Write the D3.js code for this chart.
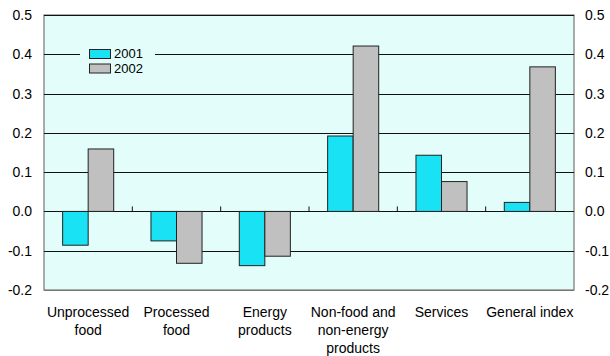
<!DOCTYPE html>
<html><head><meta charset="utf-8">
<script src="https://cdn.jsdelivr.net/npm/d3@7"></script>
<style>body{margin:0;background:#fff}svg{display:block}text{font-family:"Liberation Sans",Arial,sans-serif;fill:#000}</style>
</head><body><svg id="c" width="610" height="356"></svg>
<script>
const categories = [["Unprocessed","food"],["Processed","food"],["Energy","products"],["Non-food and","non-energy","products"],["Services"],["General index"]];
const series = ["2001","2002"];
const values2001 = [-0.086,-0.075,-0.138,0.192,0.143,0.023];
const values2002 = [0.159,-0.132,-0.114,0.421,0.076,0.368];
const yTicks = [0.5,0.4,0.3,0.2,0.1,0.0,-0.1,-0.2];
const colors = ["#19e2f5","#c0c0c0"];

const svg = d3.select("#c");
const L=44, R=574, T=15, B=290;
const x = d3.scaleBand().domain(d3.range(categories.length)).range([L,R]).padding(0);
const xs = d3.scaleBand().domain(series).range([0,x.bandwidth()]).paddingInner(0).paddingOuter(0.73);
const y = d3.scaleLinear().domain([-0.2,0.5]).range([B,T]);

svg.append("rect").attr("x",L).attr("y",T).attr("width",R-L).attr("height",B-T).attr("fill","#e3fdfb").attr("stroke","#777").attr("stroke-width",1.2);
// gridlines
svg.append("g").selectAll("line").data(yTicks).join("line")
 .attr("x1",L).attr("x2",R).attr("y1",d=>Math.round(y(d))+0.5).attr("y2",d=>Math.round(y(d))+0.5)
 .attr("stroke",d=>d===-0.2?"#777":"#111").attr("stroke-width",1.2);
// axes labels
const la = d3.axisLeft(y).tickValues(yTicks).tickFormat(d3.format(".1f")).tickSize(0).tickPadding(12);
const gl = svg.append("g").attr("transform",`translate(${L},0)`).call(la);
const ra = d3.axisRight(y).tickValues(yTicks).tickFormat(d3.format(".1f")).tickSize(0).tickPadding(11);
const gr = svg.append("g").attr("transform",`translate(${R},0)`).call(ra);
[gl,gr].forEach(g=>{g.select(".domain").remove();g.selectAll("text").attr("font-size",14).attr("font-family","Liberation Sans, Arial, sans-serif").attr("fill","#000");});
gl.selectAll("text").text(d=>d3.format(".1f")(d).replace("−","-"));
gr.selectAll("text").text(d=>d3.format(".1f")(d).replace("−","-"));

// bars
const data = categories.map((c,i)=>({i, vals:[values2001[i],values2002[i]]}));
const g = svg.append("g");
data.forEach(d=>{
  d.vals.forEach((v,j)=>{
    const x0 = x(d.i)+xs(series[j]);
    g.append("rect").attr("x",x0).attr("width",xs.bandwidth())
     .attr("y",y(Math.max(0,v))).attr("height",Math.abs(y(v)-y(0)))
     .attr("fill",colors[j]).attr("stroke","#222").attr("stroke-width",1);
  });
});
// zero line ticks at category boundaries
svg.append("g").selectAll("line").data(d3.range(1,categories.length)).join("line")
 .attr("x1",d=>x(d)).attr("x2",d=>x(d)).attr("y1",y(0)-5).attr("y2",y(0)).attr("stroke","#111").attr("stroke-width",1);

// category labels
const cl = svg.append("g");
categories.forEach((lines,i)=>{
  const t = cl.append("text").attr("x",x(i)+x.bandwidth()/2).attr("y",317).attr("text-anchor","middle").attr("font-size",14);
  lines.forEach((s,k)=>t.append("tspan").attr("x",x(i)+x.bandwidth()/2).attr("dy",k?18:0).text(s));
});

// legend
const lg = svg.append("g");
lg.append("rect").attr("x",80).attr("y",44).attr("width",75).attr("height",33).attr("fill","#e3fdfb");
series.forEach((s,j)=>{
  lg.append("rect").attr("x",89.5).attr("y",49.5+j*14.5).attr("width",21).attr("height",9).attr("fill",colors[j]).attr("stroke","#222");
  lg.append("text").attr("x",114).attr("y",58+j*15).attr("font-size",13).text(s);
});
</script></body></html>
